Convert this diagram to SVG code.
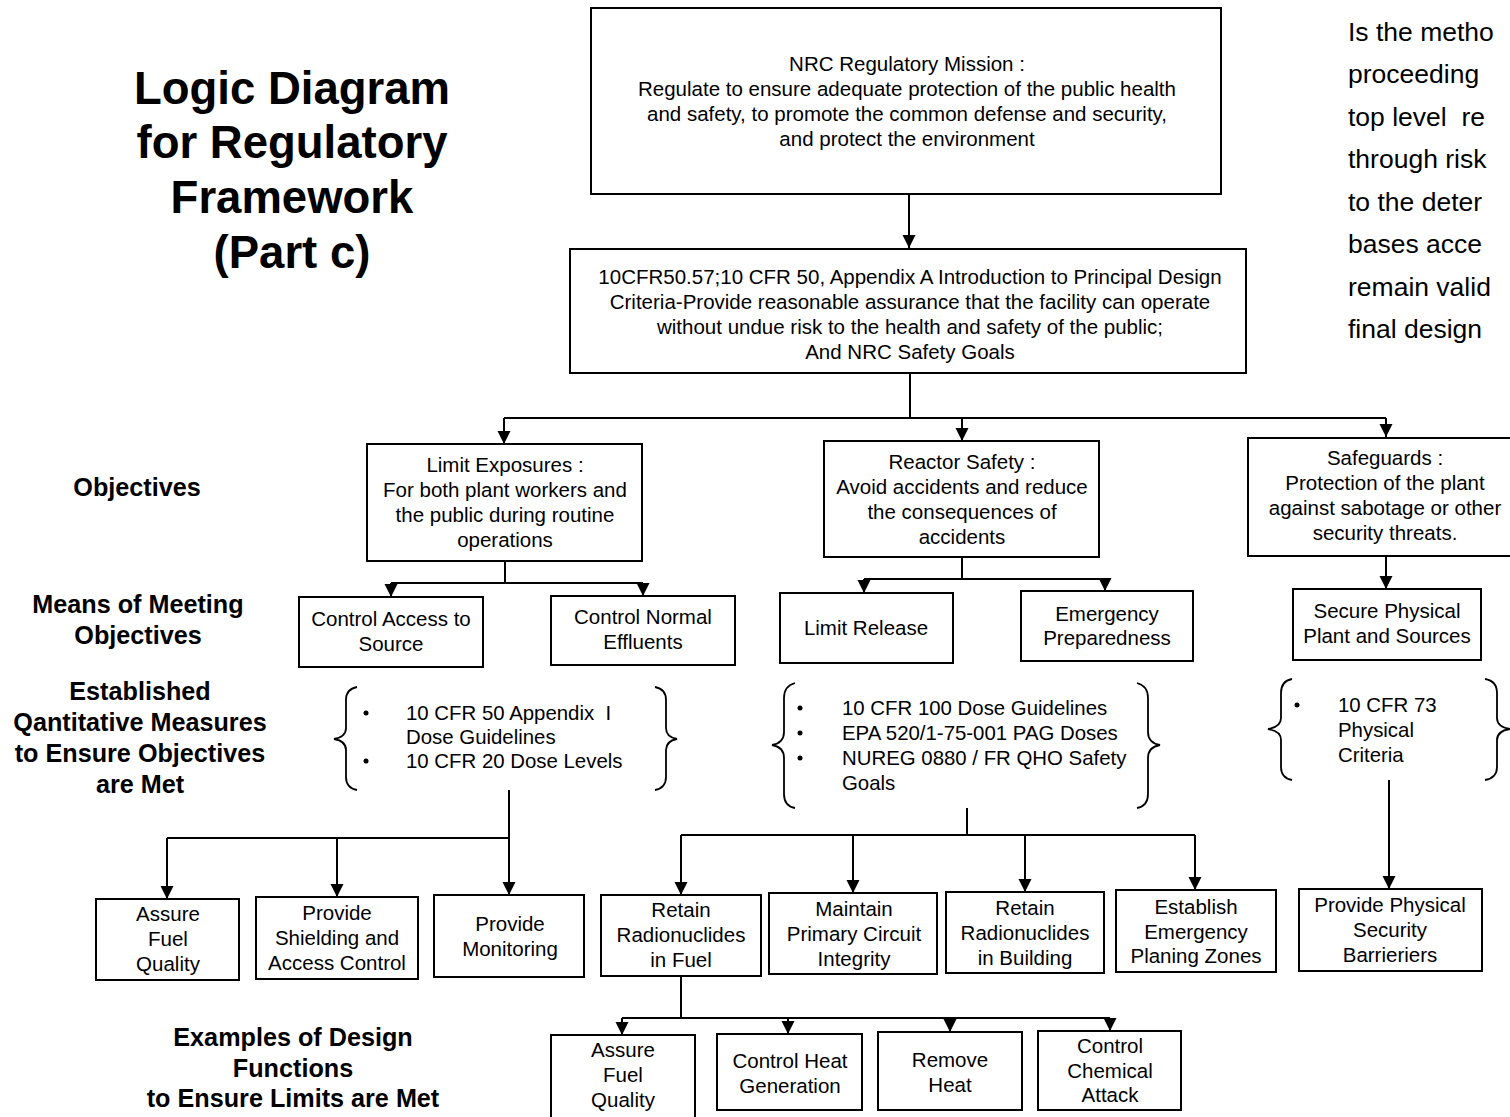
<svg xmlns="http://www.w3.org/2000/svg" width="1510" height="1117" viewBox="0 0 1510 1117">
<style>
.bx{fill:#fff;stroke:#000;stroke-width:2}
.t{font-family:"Liberation Sans",Arial,sans-serif;font-size:20.5px;fill:#000;text-anchor:middle}
.ts{font-family:"Liberation Sans",Arial,sans-serif;font-size:20.5px;fill:#000;text-anchor:middle}
.tl{font-family:"Liberation Sans",Arial,sans-serif;font-size:20.4px;fill:#000}
.lb{font-family:"Liberation Sans",Arial,sans-serif;font-size:25.2px;font-weight:bold;fill:#000;text-anchor:middle}
.ti{font-family:"Liberation Sans",Arial,sans-serif;font-size:45.5px;font-weight:bold;fill:#000;text-anchor:middle}
.rt{font-family:"Liberation Sans",Arial,sans-serif;font-size:26.5px;fill:#000}
.c{fill:none;stroke:#000;stroke-width:2}
.br{fill:none;stroke:#000;stroke-width:1.8}
</style>
<defs>
<marker id="ah" markerWidth="14" markerHeight="14" refX="13" refY="6.5" orient="auto" markerUnits="userSpaceOnUse"><path d="M0,0 L13,6.5 L0,13 z" fill="#000"/></marker>
</defs>
<rect width="1510" height="1117" fill="#fff"/>

<g id="title">
<text class="ti" x="292" y="104">Logic Diagram</text>
<text class="ti" x="292" y="158">for Regulatory</text>
<text class="ti" x="292" y="213">Framework</text>
<text class="ti" x="292" y="268">(Part c)</text>
</g>

<g id="side-note">
<text class="rt" x="1348" y="41">Is the metho</text>
<text class="rt" x="1348" y="83">proceeding</text>
<text class="rt" x="1348" y="126">top level&#160; re</text>
<text class="rt" x="1348" y="168">through risk</text>
<text class="rt" x="1348" y="211">to the deter</text>
<text class="rt" x="1348" y="253">bases acce</text>
<text class="rt" x="1348" y="296">remain valid</text>
<text class="rt" x="1348" y="338">final design</text>
</g>

<g id="row-labels">
<text class="lb" x="137" y="496">Objectives</text>
<text class="lb" x="138" y="613">Means of Meeting</text>
<text class="lb" x="138" y="644">Objectives</text>
<text class="lb" x="140" y="700">Established</text>
<text class="lb" x="140" y="731">Qantitative Measures</text>
<text class="lb" x="140" y="762">to Ensure Objectives</text>
<text class="lb" x="140" y="793">are Met</text>
<text class="lb" x="293" y="1046">Examples of Design</text>
<text class="lb" x="293" y="1077">Functions</text>
<text class="lb" x="293" y="1107">to Ensure Limits are Met</text>
</g>

<g id="connectors">
<line class="c" x1="909" y1="194" x2="909" y2="248" marker-end="url(#ah)"/>
<line class="c" x1="910" y1="373" x2="910" y2="418"/>
<line class="c" x1="504" y1="418" x2="1386" y2="418"/>
<line class="c" x1="504" y1="418" x2="504" y2="444" marker-end="url(#ah)"/>
<line class="c" x1="962" y1="418" x2="962" y2="441" marker-end="url(#ah)"/>
<line class="c" x1="1386" y1="418" x2="1386" y2="437" marker-end="url(#ah)"/>
<line class="c" x1="505" y1="561" x2="505" y2="583"/>
<line class="c" x1="391" y1="583" x2="643" y2="583"/>
<line class="c" x1="391" y1="583" x2="391" y2="597" marker-end="url(#ah)"/>
<line class="c" x1="643" y1="583" x2="643" y2="596" marker-end="url(#ah)"/>
<line class="c" x1="962" y1="557" x2="962" y2="579"/>
<line class="c" x1="864" y1="579" x2="1105" y2="579"/>
<line class="c" x1="864" y1="579" x2="864" y2="593" marker-end="url(#ah)"/>
<line class="c" x1="1105" y1="579" x2="1105" y2="591" marker-end="url(#ah)"/>
<line class="c" x1="1386" y1="556" x2="1386" y2="589" marker-end="url(#ah)"/>
<line class="c" x1="509" y1="790" x2="509" y2="895" marker-end="url(#ah)"/>
<line class="c" x1="167" y1="838" x2="509" y2="838"/>
<line class="c" x1="167" y1="838" x2="167" y2="899" marker-end="url(#ah)"/>
<line class="c" x1="337" y1="838" x2="337" y2="897" marker-end="url(#ah)"/>
<line class="c" x1="967" y1="808" x2="967" y2="835"/>
<line class="c" x1="681" y1="835" x2="1195" y2="835"/>
<line class="c" x1="681" y1="835" x2="681" y2="895" marker-end="url(#ah)"/>
<line class="c" x1="853" y1="835" x2="853" y2="893" marker-end="url(#ah)"/>
<line class="c" x1="1025" y1="835" x2="1025" y2="892" marker-end="url(#ah)"/>
<line class="c" x1="1195" y1="835" x2="1195" y2="890" marker-end="url(#ah)"/>
<line class="c" x1="1389" y1="780" x2="1389" y2="889" marker-end="url(#ah)"/>
<line class="c" x1="681" y1="976" x2="681" y2="1018"/>
<line class="c" x1="622" y1="1018" x2="1110" y2="1018"/>
<line class="c" x1="622" y1="1018" x2="622" y2="1035" marker-end="url(#ah)"/>
<line class="c" x1="788" y1="1018" x2="788" y2="1034" marker-end="url(#ah)"/>
<line class="c" x1="950" y1="1018" x2="950" y2="1032" marker-end="url(#ah)"/>
<line class="c" x1="1110" y1="1018" x2="1110" y2="1031" marker-end="url(#ah)"/>
</g>

<g id="mission">
<rect class="bx" x="591" y="8" width="630" height="186"/>
<text class="ts" x="907" y="71">NRC Regulatory Mission :</text>
<text class="ts" x="907" y="96">Regulate to ensure adequate protection of the public health</text>
<text class="ts" x="907" y="121">and safety, to promote the common defense and security,</text>
<text class="ts" x="907" y="146">and protect the environment</text>
</g>

<g id="criteria">
<rect class="bx" x="570" y="249" width="676" height="124"/>
<text class="ts" x="910" y="284">10CFR50.57;10 CFR 50, Appendix A Introduction to Principal Design</text>
<text class="ts" x="910" y="309">Criteria-Provide reasonable assurance that the facility can operate</text>
<text class="ts" x="910" y="334">without undue risk to the health and safety of the public;</text>
<text class="ts" x="910" y="359">And NRC Safety Goals</text>
</g>

<g id="limit-exposures">
<rect class="bx" x="367" y="444" width="275" height="117"/>
<text class="t" x="505" y="472">Limit Exposures :</text>
<text class="t" x="505" y="497">For both plant workers and</text>
<text class="t" x="505" y="522">the public during routine</text>
<text class="t" x="505" y="547">operations</text>
</g>

<g id="reactor-safety">
<rect class="bx" x="824" y="441" width="275" height="116"/>
<text class="t" x="962" y="469">Reactor Safety :</text>
<text class="t" x="962" y="494">Avoid accidents and reduce</text>
<text class="t" x="962" y="519">the consequences of</text>
<text class="t" x="962" y="544">accidents</text>
</g>

<g id="safeguards">
<rect class="bx" x="1248" y="438" width="264" height="118"/>
<text class="ts" x="1385" y="465">Safeguards :</text>
<text class="ts" x="1385" y="490">Protection of the plant</text>
<text class="ts" x="1385" y="515">against sabotage or other</text>
<text class="ts" x="1385" y="540">security threats.</text>
</g>

<g id="control-access">
<rect class="bx" x="299" y="597" width="184" height="70"/>
<text class="t" x="391" y="626">Control Access to</text>
<text class="t" x="391" y="651">Source</text>
</g>

<g id="control-effluents">
<rect class="bx" x="551" y="596" width="184" height="69"/>
<text class="t" x="643" y="624">Control Normal</text>
<text class="t" x="643" y="649">Effluents</text>
</g>

<g id="limit-release">
<rect class="bx" x="780" y="593" width="173" height="70"/>
<text class="t" x="866" y="635">Limit Release</text>
</g>

<g id="emergency-preparedness">
<rect class="bx" x="1021" y="591" width="172" height="70"/>
<text class="t" x="1107" y="621">Emergency</text>
<text class="t" x="1107" y="645">Preparedness</text>
</g>

<g id="secure-physical">
<rect class="bx" x="1293" y="589" width="188" height="71"/>
<text class="t" x="1387" y="618">Secure Physical</text>
<text class="t" x="1387" y="643">Plant and Sources</text>
</g>

<g id="measures-exposure">
<path class="br" d="M357 687 Q346 689 346 700 L346 728 Q346 737 334 739 Q346 741 346 750 L346 777 Q346 788 357 790"/>
<path class="br" d="M655 687 Q666 689 666 700 L666 728 Q666 737 677 739 Q666 741 666 750 L666 777 Q666 788 655 790"/>
<circle cx="366" cy="713" r="2.5"/>
<circle cx="366" cy="761" r="2.5"/>
<text class="tl" x="406" y="720">10 CFR 50 Appendix&#160; I</text>
<text class="tl" x="406" y="744">Dose Guidelines</text>
<text class="tl" x="406" y="768">10 CFR 20 Dose Levels</text>
</g>

<g id="measures-reactor">
<path class="br" d="M795 683 Q784 686 784 698 L784 732 Q784 743 772 745 Q784 747 784 758 L784 794 Q784 806 795 808"/>
<path class="br" d="M1137 683 Q1148 686 1148 698 L1148 732 Q1148 743 1160 745 Q1148 747 1148 758 L1148 794 Q1148 806 1137 808"/>
<circle cx="800" cy="708" r="2.5"/>
<circle cx="800" cy="733" r="2.5"/>
<circle cx="800" cy="758" r="2.5"/>
<text class="tl" x="842" y="715">10 CFR 100 Dose Guidelines</text>
<text class="tl" x="842" y="740">EPA 520/1-75-001 PAG Doses</text>
<text class="tl" x="842" y="765">NUREG 0880 / FR QHO Safety</text>
<text class="tl" x="842" y="790">Goals</text>
</g>

<g id="measures-safeguards">
<path class="br" d="M1292 679 Q1281 681 1281 693 L1281 718 Q1281 727 1268 729 Q1281 731 1281 740 L1281 767 Q1281 778 1292 780"/>
<path class="br" d="M1485 679 Q1497 681 1497 693 L1497 718 Q1497 727 1510 729 Q1497 731 1497 740 L1497 767 Q1497 778 1485 780"/>
<circle cx="1297" cy="705" r="2.5"/>
<text class="tl" x="1338" y="712">10 CFR 73</text>
<text class="tl" x="1338" y="737">Physical</text>
<text class="tl" x="1338" y="762">Criteria</text>
</g>

<g id="assure-fuel-quality-1">
<rect class="bx" x="96" y="899" width="143" height="81"/>
<text class="t" x="168" y="921">Assure</text>
<text class="t" x="168" y="946">Fuel</text>
<text class="t" x="168" y="971">Quality</text>
</g>

<g id="provide-shielding">
<rect class="bx" x="256" y="897" width="162" height="82"/>
<text class="t" x="337" y="920">Provide</text>
<text class="t" x="337" y="945">Shielding and</text>
<text class="t" x="337" y="970">Access Control</text>
</g>

<g id="provide-monitoring">
<rect class="bx" x="434" y="895" width="150" height="82"/>
<text class="t" x="510" y="931">Provide</text>
<text class="t" x="510" y="956">Monitoring</text>
</g>

<g id="retain-fuel">
<rect class="bx" x="601" y="895" width="160" height="81"/>
<text class="t" x="681" y="917">Retain</text>
<text class="t" x="681" y="942">Radionuclides</text>
<text class="t" x="681" y="967">in Fuel</text>
</g>

<g id="maintain-primary">
<rect class="bx" x="769" y="893" width="168" height="81"/>
<text class="t" x="854" y="916">Maintain</text>
<text class="t" x="854" y="941">Primary Circuit</text>
<text class="t" x="854" y="966">Integrity</text>
</g>

<g id="retain-building">
<rect class="bx" x="946" y="892" width="158" height="81"/>
<text class="t" x="1025" y="915">Retain</text>
<text class="t" x="1025" y="940">Radionuclides</text>
<text class="t" x="1025" y="965">in Building</text>
</g>

<g id="establish-epz">
<rect class="bx" x="1116" y="890" width="160" height="82"/>
<text class="t" x="1196" y="914">Establish</text>
<text class="t" x="1196" y="939">Emergency</text>
<text class="t" x="1196" y="963">Planing Zones</text>
</g>

<g id="physical-barriers">
<rect class="bx" x="1299" y="889" width="183" height="82"/>
<text class="t" x="1390" y="912">Provide Physical</text>
<text class="t" x="1390" y="937">Security</text>
<text class="t" x="1390" y="962">Barrieriers</text>
</g>

<g id="assure-fuel-quality-2">
<rect class="bx" x="551" y="1035" width="144" height="84"/>
<text class="t" x="623" y="1057">Assure</text>
<text class="t" x="623" y="1082">Fuel</text>
<text class="t" x="623" y="1107">Quality</text>
</g>

<g id="control-heat">
<rect class="bx" x="717" y="1034" width="145" height="76"/>
<text class="t" x="790" y="1068">Control Heat</text>
<text class="t" x="790" y="1093">Generation</text>
</g>

<g id="remove-heat">
<rect class="bx" x="878" y="1032" width="144" height="78"/>
<text class="t" x="950" y="1067">Remove</text>
<text class="t" x="950" y="1092">Heat</text>
</g>

<g id="control-chemical">
<rect class="bx" x="1038" y="1031" width="143" height="79"/>
<text class="t" x="1110" y="1053">Control</text>
<text class="t" x="1110" y="1078">Chemical</text>
<text class="t" x="1110" y="1102">Attack</text>
</g>
</svg>
